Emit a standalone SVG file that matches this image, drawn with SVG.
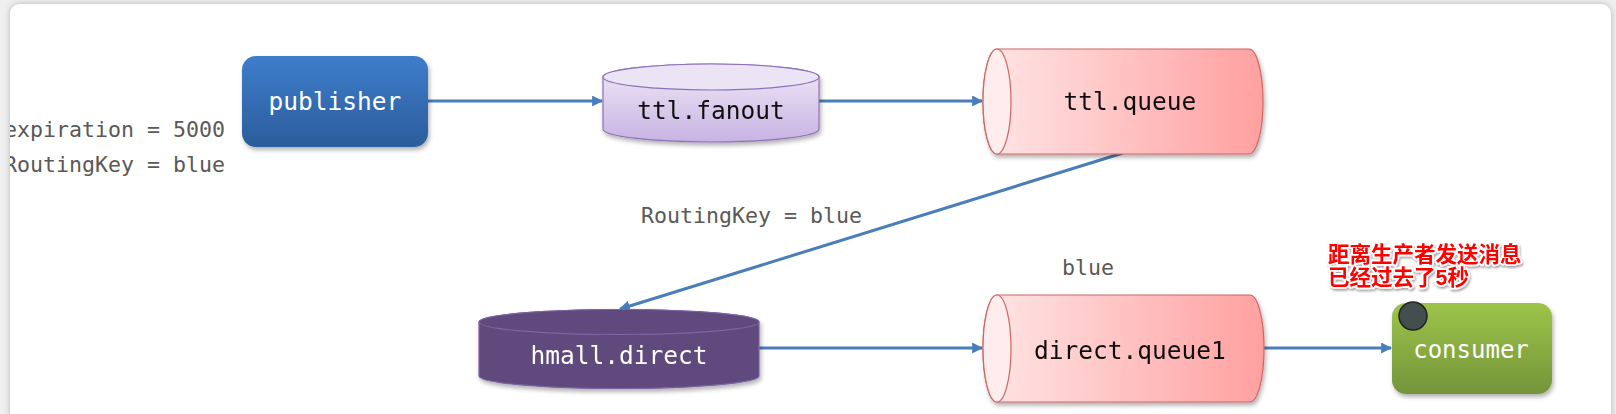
<svg xmlns="http://www.w3.org/2000/svg" width="1616" height="414" viewBox="0 0 1616 414">
  <style>
    .mono { font-family: "DejaVu Sans Mono", "Liberation Mono", monospace; }
    .node-text { font-size: 24.5px; text-anchor: middle; }
    .label { font-size: 21.6px; fill: #595959; }
    .conn { fill: none; stroke: #4a7ebb; stroke-width: 3; }
    .cjk { font-family: "Noto Sans CJK SC", "Liberation Sans", sans-serif; font-weight: bold; font-size: 21.5px; fill: #ff0000; stroke: #ffffff; stroke-width: 3.5px; paint-order: stroke; stroke-linejoin: round; }
  </style>
  <defs>
    <filter id="cardShadow" x="-5%" y="-10%" width="110%" height="120%">
      <feDropShadow dx="0" dy="0" stdDeviation="3" flood-color="#000" flood-opacity="0.25"/>
    </filter>
    <filter id="nodeShadow" x="-10%" y="-10%" width="125%" height="130%">
      <feDropShadow dx="1.5" dy="3" stdDeviation="2" flood-color="#000" flood-opacity="0.3"/>
    </filter>
    <filter id="textShadow" x="-5%" y="-20%" width="115%" height="150%">
      <feDropShadow dx="1" dy="2" stdDeviation="1.2" flood-color="#000" flood-opacity="0.35"/>
    </filter>
    <linearGradient id="gBlue" x1="0" y1="0" x2="0" y2="1">
      <stop offset="0" stop-color="#3e7dcc"/>
      <stop offset="1" stop-color="#2b5d9b"/>
    </linearGradient>
    <linearGradient id="gGreen" x1="0" y1="0" x2="0" y2="1">
      <stop offset="0" stop-color="#9dc44a"/>
      <stop offset="1" stop-color="#74943a"/>
    </linearGradient>
    <linearGradient id="gLav" x1="0" y1="0" x2="0" y2="1">
      <stop offset="0" stop-color="#efe9f7"/>
      <stop offset="1" stop-color="#c8b3e3"/>
    </linearGradient>
    <linearGradient id="gPink" x1="0" y1="0" x2="1" y2="0">
      <stop offset="0" stop-color="#ffe6e6"/>
      <stop offset="1" stop-color="#ffa0a0"/>
    </linearGradient>
    <marker id="arrow" viewBox="0 0 10 10" refX="9" refY="5" markerWidth="11" markerHeight="11" markerUnits="userSpaceOnUse" orient="auto">
      <path d="M0,0 L10,5 L0,10 Z" fill="#4a7ebb"/>
    </marker>
    <clipPath id="cardClip">
      <rect x="10" y="4" width="1601" height="430" rx="10"/>
    </clipPath>
  </defs>

  <rect x="0" y="0" width="1616" height="414" fill="#efefef"/>
  <rect x="10" y="4" width="1601" height="430" rx="10" fill="#ffffff" filter="url(#cardShadow)"/>

  <g id="labels" class="mono label" clip-path="url(#cardClip)">
    <text x="225" y="137" text-anchor="end">expiration = 5000</text>
    <text x="225" y="172" text-anchor="end">RoutingKey = blue</text>
    <text x="641" y="223">RoutingKey = blue</text>
    <text x="1062" y="275">blue</text>
  </g>

  <g id="connectors">
    <line class="conn" x1="428" y1="101" x2="602" y2="101" marker-end="url(#arrow)"/>
    <line class="conn" x1="819" y1="101" x2="982" y2="101" marker-end="url(#arrow)"/>
    <line class="conn" x1="1123" y1="153" x2="620" y2="309" marker-end="url(#arrow)"/>
    <line class="conn" x1="759" y1="348" x2="982" y2="348" marker-end="url(#arrow)"/>
    <line class="conn" x1="1264" y1="348" x2="1391" y2="348" marker-end="url(#arrow)"/>
  </g>

  <g id="publisher">
    <rect x="242" y="56" width="186" height="91" rx="14" fill="url(#gBlue)" filter="url(#nodeShadow)"/>
    <text class="mono node-text" x="335" y="110" fill="#ffffff">publisher</text>
  </g>

  <g id="ttl-fanout" filter="url(#nodeShadow)">
    <path d="M603,77 L603,129 A108,13 0 0 0 819,129 L819,77 A108,13 0 0 0 603,77 Z" fill="url(#gLav)" stroke="#8d70b8" stroke-width="1.2"/>
    <ellipse cx="711" cy="77" rx="108" ry="13" fill="#ebe4f5" stroke="#8d70b8" stroke-width="1.2"/>
    <text class="mono node-text" x="711" y="119" fill="#111111">ttl.fanout</text>
  </g>

  <g id="ttl-queue" filter="url(#nodeShadow)">
    <path d="M997,49 L1249,49 A14,52.5 0 0 1 1249,154 L997,154 A14,52.5 0 0 1 997,49 Z" fill="url(#gPink)" stroke="#cc6666" stroke-width="1.2"/>
    <ellipse cx="997" cy="101.5" rx="14" ry="52.5" fill="#ffeded" stroke="#cc6666" stroke-width="1.2"/>
    <text class="mono node-text" x="1130" y="110" fill="#111111">ttl.queue</text>
  </g>

  <g id="hmall-direct" filter="url(#nodeShadow)">
    <path d="M479,322 L479,376 A140,12.5 0 0 0 759,376 L759,322 A140,12.5 0 0 0 479,322 Z" fill="#604a7b" stroke="#7d64a3" stroke-width="1.2"/>
    <ellipse cx="619" cy="322" rx="140" ry="12.5" fill="#604a7b" stroke="#7d64a3" stroke-width="1.2"/>
    <text class="mono node-text" x="619" y="364" fill="#ffffff">hmall.direct</text>
  </g>

  <g id="direct-queue1" filter="url(#nodeShadow)">
    <path d="M997,295 L1250,295 A14,53.5 0 0 1 1250,402 L997,402 A14,53.5 0 0 1 997,295 Z" fill="url(#gPink)" stroke="#cc6666" stroke-width="1.2"/>
    <ellipse cx="997" cy="348.5" rx="14" ry="53.5" fill="#ffeded" stroke="#cc6666" stroke-width="1.2"/>
    <text class="mono node-text" x="1130" y="359" fill="#111111">direct.queue1</text>
  </g>

  <g id="consumer">
    <rect x="1392" y="303" width="160" height="91" rx="14" fill="url(#gGreen)" filter="url(#nodeShadow)"/>
    <text class="mono" x="1471" y="358" font-size="24px" text-anchor="middle" fill="#ffffff">consumer</text>
    <circle cx="1413" cy="316" r="14" fill="#454e4e" stroke="#1f2424" stroke-width="1.5"/>
  </g>

  <g id="note" filter="url(#textShadow)">
    <text class="cjk" x="1328" y="262">距离生产者发送消息</text>
    <text class="cjk" x="1328" y="285">已经过去了<tspan font-family="Liberation Sans, sans-serif">5</tspan>秒</text>
  </g>
</svg>
